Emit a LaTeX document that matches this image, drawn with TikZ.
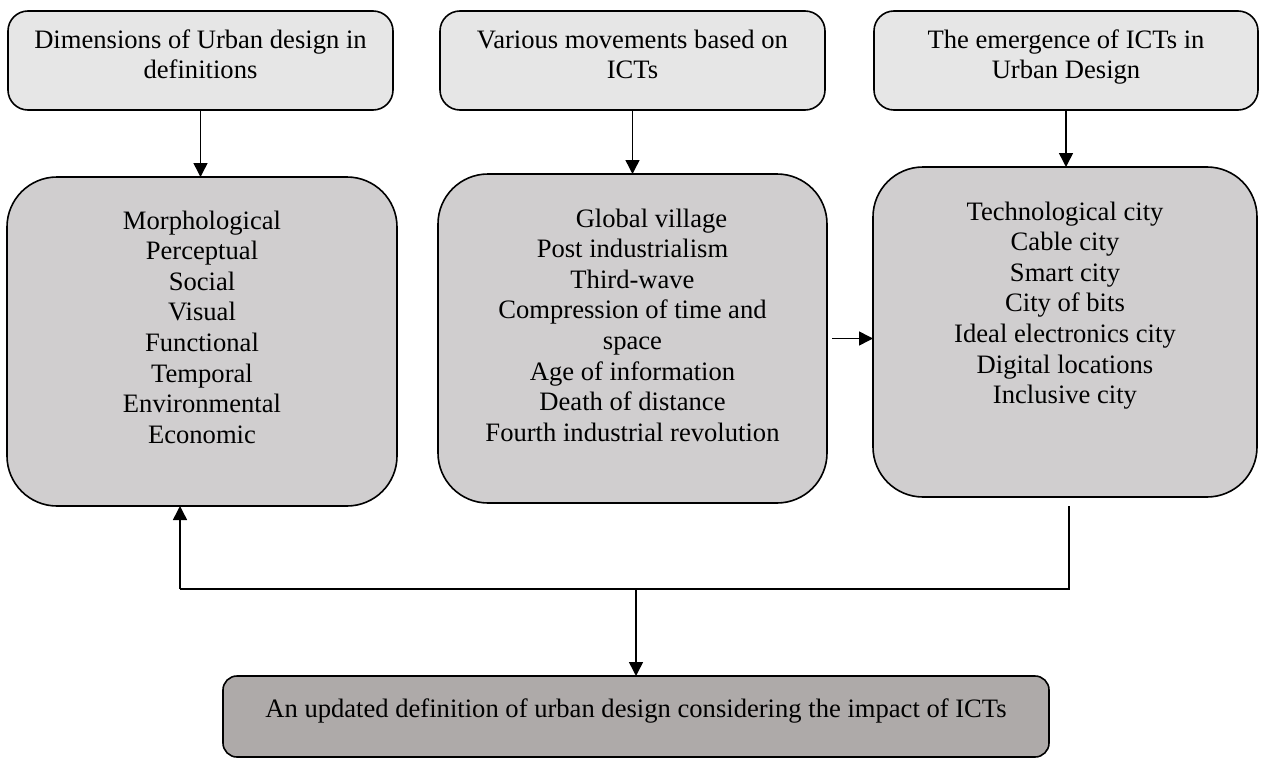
\documentclass[tikz,border=0pt]{standalone}
\usepackage{fontspec}
\setmainfont{Liberation Serif}
\usetikzlibrary{arrows.meta}
\definecolor{topfill}{HTML}{E6E6E6}
\definecolor{midfill}{HTML}{D0CECF}
\definecolor{botfill}{HTML}{AEAAA9}
\newcommand{\boxtxt}[4]{\parbox[c][#2][t]{#1}{\centering\rule{0pt}{#3}#4}}
\tikzset{
  basebox/.style={draw=black, line width=1.6pt, inner sep=0pt, outer sep=0pt,
    font=\fontsize{26.6}{30.6}\selectfont},
  topbox/.style={basebox, fill=topfill, rounded corners=20pt},
  midbox/.style={basebox, fill=midfill, rounded corners=50pt},
  botbox/.style={basebox, fill=botfill, rounded corners=14pt},
  arr/.style={line width=1.5pt, -{Triangle[length=14pt,width=14pt]}},
  ln/.style={line width=1.5pt}
}
\begin{document}
\begin{tikzpicture}[x=1pt,y=-1pt]
\useasboundingbox (0,0) rectangle (1261,760);
% top row
\node[topbox] (tA) at (200.5,60.5) {\boxtxt{385pt}{99pt}{37pt}{Dimensions of Urban design in\\definitions}};
\node[topbox] (tB) at (632.5,60.5) {\boxtxt{385pt}{99pt}{37pt}{Various movements based on\\ICTs}};
\node[topbox] (tC) at (1066,60.5) {\boxtxt{384pt}{99pt}{37pt}{The emergence of ICTs in\\Urban Design}};
% middle row
\node[midbox] (mA) at (202,341.5) {\boxtxt{390pt}{329pt}{52pt}{Morphological\\Perceptual\\Social\\Visual\\Functional\\Temporal\\Environmental\\Economic}};
\node[midbox] (mB) at (632.5,338.5) {\boxtxt{389pt}{329pt}{53pt}{\hspace*{38pt}Global village\\Post industrialism\\Third-wave\\Compression of time and\\space\\Age of information\\Death of distance\\Fourth industrial revolution}};
\node[midbox] (mC) at (1065,332) {\boxtxt{384pt}{330pt}{53pt}{Technological city\\Cable city\\Smart city\\City of bits\\Ideal electronics city\\Digital locations\\Inclusive city}};
% bottom
\node[botbox] (bt) at (636,716.5) {\boxtxt{826pt}{81pt}{41pt}{An updated definition of urban design considering the impact of ICTs}};
% connectors
\draw[arr] (tA.south) -- (tA.south |- mA.north);
\draw[arr] (tB.south) -- (tB.south |- mB.north);
\draw[arr] (tC.south) -- (tC.south |- mC.north);
\draw[arr] ([xshift=5pt]mB.east) -- (mB.east -| mC.west);
\coordinate (fbTop) at (1069,506);
\coordinate (fbR) at (1069,589);
\coordinate (fbL) at (180,589);
\draw[ln] (fbTop) -- (fbR) -- (fbL);
\draw[arr] (fbL) -- (fbL |- mA.south);
\draw[arr] (bt.north |- fbL) -- (bt.north);
\end{tikzpicture}
\end{document}
